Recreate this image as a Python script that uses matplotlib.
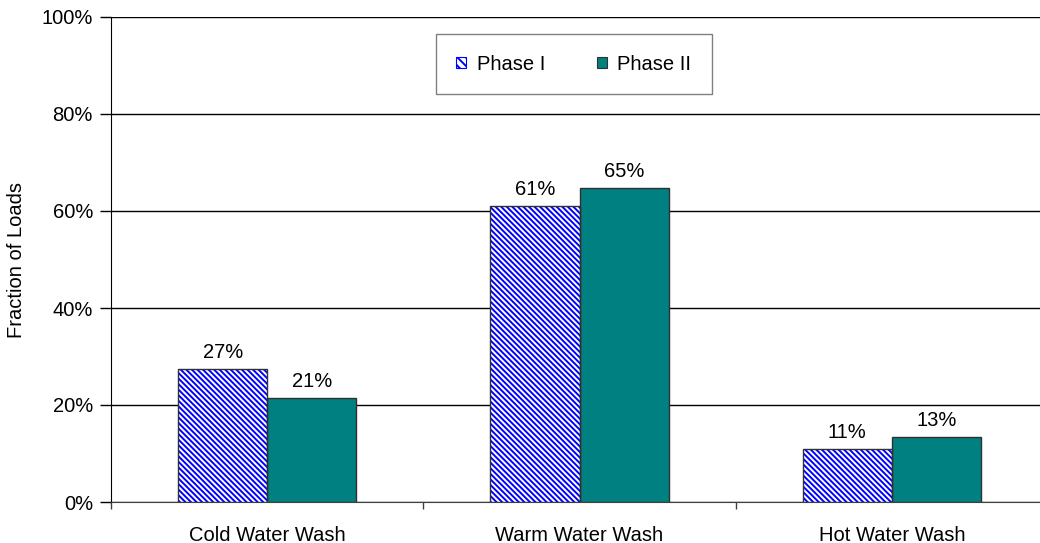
import matplotlib
matplotlib.use("Agg")
import matplotlib.pyplot as plt
import numpy as np
from matplotlib.patches import Patch
from matplotlib.ticker import PercentFormatter, FixedLocator

plt.rcParams.update({
    "font.family": ["Liberation Sans", "DejaVu Sans"],
    "font.size": 14.5,
    "hatch.linewidth": 1.4,
})

# Data
categories = ["Cold Water Wash", "Warm Water Wash", "Hot Water Wash"]
phase_1 = [27.4, 61.0, 10.9]
phase_2 = [21.4, 64.7, 13.4]
series_names = ["Phase I", "Phase II"]

COLOR_HATCH = "#0000ff"
COLOR_TEAL = "#008080"
COLOR_EDGE = "#303030"

fig = plt.figure(figsize=(10.4, 5.43), dpi=100)
fig.patch.set_facecolor("white")
ax = fig.add_axes([111 / 1040, 41 / 543, 937 / 1040, 485 / 543])

x = np.arange(len(categories))
w = 0.285

# Phase I: blue diagonal hatch on white, outline drawn separately
ax.bar(x - w / 2, phase_1, w, color="white", edgecolor=COLOR_HATCH,
       hatch="\\" * 6, linewidth=0, zorder=3)
ax.bar(x - w / 2, phase_1, w, fill=False, edgecolor=COLOR_EDGE,
       linewidth=1.0, zorder=4)
ax.bar(x + w / 2, phase_2, w, color=COLOR_TEAL, edgecolor=COLOR_EDGE,
       linewidth=1.0, zorder=3)

# value labels
for xs, vals in ((x - w / 2, phase_1), (x + w / 2, phase_2)):
    for xi, v in zip(xs, vals):
        ax.text(xi, v + 1.5, f"{v:.0f}%", ha="center", va="bottom",
                zorder=6, bbox=dict(facecolor="white", edgecolor="none", pad=1.5))

ax.set_xlim(-0.5, 2.5)
ax.set_ylim(0, 100)
ax.set_yticks(range(0, 101, 20))
ax.yaxis.set_major_formatter(PercentFormatter(decimals=0))
ax.yaxis.grid(True, color="black", linewidth=1.0, zorder=0)
ax.set_axisbelow(True)

ax.set_xticks(x)
ax.set_xticklabels(categories)
ax.xaxis.set_minor_locator(FixedLocator([-0.5, 0.5, 1.5, 2.5]))
ax.tick_params(axis="x", which="major", length=0, pad=17)
ax.tick_params(axis="x", which="minor", length=5, width=1, color="#404040")
ax.tick_params(axis="y", length=8, width=1, pad=5)

for s in ("top", "right"):
    ax.spines[s].set_visible(False)
ax.spines["left"].set_color("black")
ax.spines["bottom"].set_color("#404040")

ax.set_ylabel("Fraction of Loads")
ax.yaxis.set_label_coords(-(111 - 26) / 937, 0.5)

handles = [
    Patch(facecolor="white", edgecolor=COLOR_HATCH, hatch="\\" * 4, linewidth=0.8),
    Patch(facecolor=COLOR_TEAL, edgecolor=COLOR_EDGE, linewidth=0.8),
]
leg = ax.legend(handles, series_names, loc="center", bbox_to_anchor=(0.494, 0.903),
                ncol=2, fancybox=False, framealpha=1, edgecolor="#808080",
                handlelength=0.5, handleheight=0.5, handletextpad=0.5,
                columnspacing=2.6, borderpad=1.0, borderaxespad=0)
leg.get_frame().set_linewidth(1.0)
leg.set_zorder(7)

fig.savefig("out.png", dpi=100, facecolor="white")
